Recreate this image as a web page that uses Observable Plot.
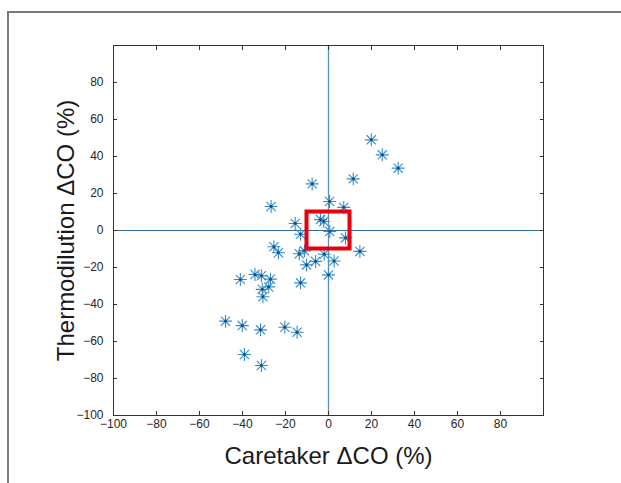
<!DOCTYPE html>
<html>
<head>
<meta charset="utf-8">
<script src="https://cdn.jsdelivr.net/npm/d3@7"></script>
<script src="https://cdn.jsdelivr.net/npm/@observablehq/plot@0.6"></script>
<style>
  html, body { margin: 0; padding: 0; background: #fff; }
  #wrap { position: relative; width: 621px; height: 483px; overflow: hidden; font-family: "Liberation Sans", Arial, sans-serif; }
  #border { position: absolute; left: 7px; top: 11px; width: 640px; height: 500px; border-top: 2px solid #7a7a7a; border-left: 2px solid #7a7a7a; pointer-events: none; }
  #chart { position: absolute; left: 0; top: 0; }
</style>
</head>
<body>
<div id="wrap"><div id="chart"></div><div id="border"></div></div>
<script>
// Data
const caretaker = [19.9, 25.0, 32.4, 11.5, -7.6, 0.5, 7.1, -26.7, -15.5, -3.7, -2.2, -13.0, 0.6, 7.9, 14.6, -25.4, -23.3, -13.6, -11.2, -2.0, 2.6, -6.0, -10.2, 0.0, -13.0, -41.0, -34.2, -31.2, -27.0, -27.8, -30.8, -30.5, -47.9, -40.1, -31.6, -20.3, -14.6, -39.1, -31.2];
const thermodilution = [49.0, 40.9, 33.7, 27.9, 25.2, 15.7, 12.5, 13.0, 3.8, 5.9, 4.9, -2.0, -0.5, -4.0, -11.3, -8.8, -12.0, -12.6, -11.0, -12.8, -16.5, -16.7, -18.6, -24.0, -28.3, -26.5, -23.8, -24.5, -26.3, -30.5, -31.8, -35.8, -49.0, -51.4, -53.7, -52.3, -55.0, -67.0, -73.0];
const xTicks = [-100, -80, -60, -40, -20, 0, 20, 40, 60, 80];
const yTicks = [-100, -80, -60, -40, -20, 0, 20, 40, 60, 80];
const highlightBox = [{x1: -10, x2: 10, y1: -10, y2: 10}];
const xLabel = "Caretaker \u0394CO (%)";
const yLabel = "Thermodilution \u0394CO (%)";

const points = caretaker.map((x, i) => ({x, y: thermodilution[i]}));

// MATLAB-style 8-armed asterisk
const asterisk = {
  draw(context, size) {
    const r = Math.sqrt(size / Math.PI);
    const d = r * Math.SQRT1_2;
    context.moveTo(-r, 0); context.lineTo(r, 0);
    context.moveTo(0, -r); context.lineTo(0, r);
    context.moveTo(-d, -d); context.lineTo(d, d);
    context.moveTo(-d, d); context.lineTo(d, -d);
  }
};

const axisColor = "#333";
const chart = Plot.plot({
  width: 621,
  height: 483,
  marginLeft: 113,
  marginRight: 78,
  marginTop: 45,
  marginBottom: 68,
  style: {fontFamily: "'Liberation Sans', Arial, sans-serif", fontSize: "12px", color: "#262626", background: "transparent"},
  x: {domain: [-100, 100]},
  y: {domain: [-100, 100]},
  marks: [
    Plot.ruleX([0], {stroke: "#5a92bb", strokeWidth: 1.3}),
    Plot.ruleY([0], {stroke: "#2f6f9f", strokeWidth: 1.2}),
    Plot.dot(points, {x: "x", y: "y", r: 6.5, symbol: asterisk, stroke: "#3a8cc8", strokeWidth: 1.1, fill: "none"}),
    Plot.dot(points, {x: "x", y: "y", r: 1.4, fill: "#0b4f80", stroke: "none"}),
    Plot.rect(highlightBox, {x1: "x1", x2: "x2", y1: "y1", y2: "y2", stroke: "#e8000b", strokeWidth: 4, fill: "none"}),
    Plot.frame({stroke: axisColor, strokeWidth: 1}),
    Plot.axisX(xTicks, {anchor: "bottom", tickSize: -4, tickPadding: 8, label: null, stroke: axisColor}),
    Plot.axisX(xTicks, {anchor: "top", tickSize: -4, tickFormat: () => "", label: null, stroke: axisColor}),
    Plot.axisY(yTicks, {anchor: "left", tickSize: -4, tickPadding: 14, label: null, stroke: axisColor}),
    Plot.axisY(yTicks, {anchor: "right", tickSize: -4, tickFormat: () => "", label: null, stroke: axisColor}),
    Plot.text([xLabel], {text: d => d, frameAnchor: "bottom", textAnchor: "middle", dy: 41, lineAnchor: "middle", fontSize: 24, fill: "#1a1a1a"}),
    Plot.text([yLabel], {text: d => d, frameAnchor: "left", textAnchor: "middle", dx: -47, rotate: -90, lineAnchor: "middle", fontSize: 24, fill: "#1a1a1a"})
  ]
});
document.getElementById("chart").appendChild(chart);
</script>
</body>
</html>
